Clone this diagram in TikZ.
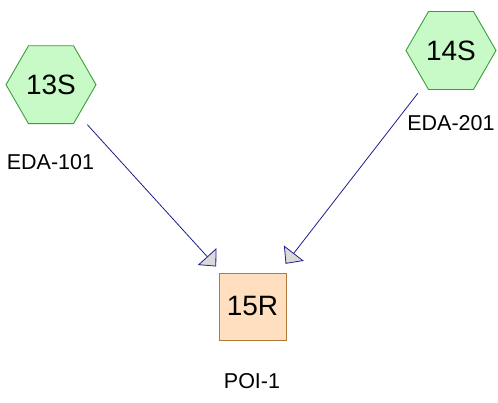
\documentclass[tikz,border=0pt]{standalone}
\usepackage{fontspec}
\setmainfont{Liberation Sans}
\usetikzlibrary{shapes.geometric,arrows.meta}
\definecolor{hexfill}{HTML}{C8FAC8}
\definecolor{hexdraw}{HTML}{3A9E3A}
\definecolor{sqfill}{HTML}{FFDFC0}
\definecolor{sqdraw}{HTML}{B07A3A}
\definecolor{navy}{HTML}{1E1E8C}
\definecolor{tipfill}{HTML}{DADADA}
\tikzset{
  hexnode/.style={regular polygon, regular polygon sides=6, minimum size=90pt, inner sep=0pt,
    fill=hexfill, draw=hexdraw, line width=0.9pt, font=\fontsize{28}{33}\selectfont},
  sqnode/.style={rectangle, minimum width=67pt, minimum height=67pt, inner sep=0pt,
    fill=sqfill, draw=sqdraw, line width=0.9pt, font=\fontsize{28}{33}\selectfont},
  lbl/.style={inner sep=0pt, font=\fontsize{21.5}{25}\selectfont},
  conn/.style={draw=navy, line width=0.8pt, shorten <=54pt, shorten >=54pt,
    -{Triangle[length=13.5pt, width=25pt, fill=tipfill]}}
}
\begin{document}
\begin{tikzpicture}[x=1pt,y=-1pt]
\useasboundingbox (0,0) rectangle (498,403);
\node[hexnode] (n13) at (51,84.7) {13S};
\node[hexnode] (n14) at (451,50.5) {14S};
\node[sqnode] (n15) at (252.5,306.5) {15R};
\node[lbl] (l13) at (50.5,162) {EDA-101};
\node[lbl] (l14) at (451,123.5) {EDA-201};
\node[lbl] (l15) at (252,381.5) {POI-1};
\draw[conn] (n13.center) -- (n15.center);
\draw[conn] (n14.center) -- (n15.center);
\end{tikzpicture}
\end{document}
